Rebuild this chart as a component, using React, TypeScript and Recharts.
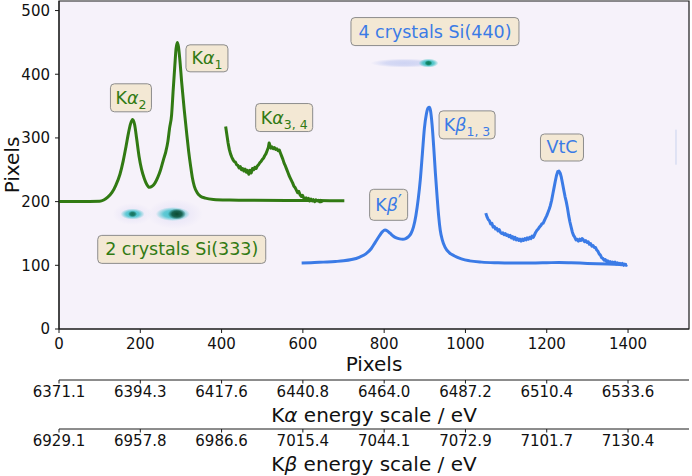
import {
  ComposedChart,
  Line,
  Scatter,
  XAxis,
  YAxis,
  CartesianGrid,
  ReferenceArea,
  ReferenceLine,
} from 'recharts'

const FONT = "'DejaVu Sans', sans-serif"
const GREEN = '#317a13'
const BLUE = '#3b7be6'
const INK = '#111'

// ── axes ──────────────────────────────────────────────────────────────────────
const pixelTicks = [0, 200, 400, 600, 800, 1000, 1200, 1400]
const yTicks = [0, 100, 200, 300, 400, 500]
const kaEnergyLabels = ['6371.1', '6394.3', '6417.6', '6440.8', '6464.0', '6487.2', '6510.4', '6533.6']
const kbEnergyLabels = ['6929.1', '6957.8', '6986.6', '7015.4', '7044.1', '7072.9', '7101.7', '7130.4']

// ── spectra (detector pixel, pixel row) ───────────────────────────────────────
const kaMain: [number, number][] = [
  [0, 200], [50, 200], [100, 200.5], [110, 202.5], [120, 207], [130, 214], [140, 226], [150, 243],
  [158, 264], [165, 287], [171, 308], [176, 322], [181, 329], [186, 321], [191, 299], [197, 271],
  [203, 251], [210, 236], [216, 227], [222, 222.5], [229, 224], [236, 229], [243, 238], [250, 250],
  [257, 266], [263, 279], [268, 295], [272, 315], [277, 336], [281, 376], [285, 414], [288, 440],
  [291, 450], [294, 443], [297, 425], [302, 386], [308, 345], [314, 308], [319, 279], [324, 255],
  [328, 238], [333, 224], [340, 214], [348, 208.5], [360, 205.5], [380, 203.5], [420, 202.5],
  [480, 202], [560, 201.8], [640, 201.6], [702, 201.5],
]

const ka34: [number, number][] = [
  [410, 318], [413, 305], [416, 292], [419, 282], [422, 275], [425, 270], [428, 266], [431, 263],
  [434, 262], [437, 258], [440, 257], [443, 253], [446, 255], [449, 250], [452, 252], [455, 248],
  [458, 251], [461, 246], [464, 249], [467, 243], [470, 249], [473, 245], [476, 252], [479, 250],
  [482, 254], [485, 252], [488, 256], [491, 258], [494, 261], [497, 263], [500, 266], [503, 268],
  [506, 272], [509, 275], [512, 280], [515, 285], [517, 292], [519, 288], [521, 284], [524, 286],
  [527, 283], [530, 285], [533, 282], [536, 283], [539, 280], [542, 281], [545, 276], [548, 271],
  [551, 266], [554, 260], [557, 256], [560, 251], [563, 246], [566, 241], [569, 237], [572, 233],
  [575, 229], [578, 224], [581, 222], [584, 218], [587, 214], [590, 216], [593, 211], [596, 208],
  [599, 210], [602, 206], [605, 204], [608, 206], [611, 202], [614, 205], [617, 201], [620, 204],
  [623, 201], [626, 203], [629, 200], [632, 203], [635, 201], [638, 202], [641, 200], [644, 202],
  [647, 198],
]

const kbMain: [number, number][] = [
  [597, 103.5], [620, 104], [650, 105], [680, 106], [700, 107], [720, 109], [740, 113], [755, 118],
  [768, 126], [778, 136], [788, 146], [796, 153], [802, 155.5], [808, 154], [815, 150], [822, 146],
  [830, 143], [838, 141.5], [846, 141], [853, 142], [860, 145], [866, 150], [872, 160], [878, 178],
  [884, 205], [889, 235], [894, 275], [899, 315], [904, 338], [908, 347], [911, 348], [914, 343],
  [918, 320], [922, 285], [926, 245], [930, 210], [934, 178], [938, 155], [943, 140], [950, 128],
  [960, 120], [972, 115], [990, 110], [1010, 107], [1040, 105], [1080, 104], [1120, 103.5],
  [1160, 103.5], [1200, 104], [1230, 104.5], [1260, 104], [1300, 103], [1350, 102], [1397, 101],
]

const vtc: [number, number][] = [
  [1050, 182], [1053, 176], [1056, 172], [1059, 170], [1062, 165], [1065, 166], [1068, 160],
  [1071, 161], [1074, 157], [1077, 158], [1080, 154], [1083, 156], [1086, 152], [1089, 150],
  [1092, 151], [1095, 148], [1098, 150], [1101, 147], [1104, 148], [1107, 145], [1110, 147],
  [1113, 143], [1116, 145], [1119, 141], [1122, 144], [1125, 140], [1128, 142], [1131, 139],
  [1134, 141], [1137, 138], [1140, 141], [1143, 139], [1146, 142], [1149, 140], [1152, 143],
  [1155, 141], [1158, 144], [1161, 142], [1164, 146], [1167, 144], [1170, 148], [1173, 152],
  [1176, 155], [1179, 157], [1182, 160], [1185, 162], [1188, 165], [1191, 166], [1194, 170],
  [1197, 174], [1200, 178], [1203, 183], [1206, 188], [1209, 194], [1212, 202], [1215, 212],
  [1218, 222], [1221, 232], [1224, 241], [1227, 247], [1230, 248], [1233, 245], [1236, 238],
  [1239, 228], [1242, 218], [1245, 208], [1248, 200], [1251, 190], [1254, 178], [1257, 168],
  [1260, 160], [1263, 152], [1266, 147], [1269, 144], [1272, 140], [1275, 141], [1278, 138],
  [1281, 141], [1284, 139], [1287, 142], [1290, 140], [1293, 137], [1296, 139], [1299, 136],
  [1302, 137], [1305, 133], [1308, 134], [1311, 130], [1314, 131], [1317, 128], [1320, 128],
  [1323, 124], [1326, 122], [1329, 118], [1332, 116], [1335, 112], [1338, 111], [1341, 108],
  [1344, 109], [1347, 106], [1350, 107], [1353, 104], [1356, 106], [1359, 104], [1362, 105],
  [1365, 103], [1368, 105], [1371, 102], [1374, 104], [1377, 102], [1380, 103], [1383, 101],
  [1386, 103], [1389, 100], [1392, 102], [1395, 100], [1398, 101],
]

// detector spots
const spots = [
  { x: 181, y: 180.5, kind: 'ka2' },
  { x: 290, y: 180.5, kind: 'ka1' },
  { x: 909, y: 417.5, kind: 'kb' },
]

// annotation boxes
const notes = [
  { x: 177, y: 363, key: 'ka2', series: 'ka', base: 'K', greek: 'α', sub: '2' },
  { x: 364, y: 425, key: 'ka1', series: 'ka', base: 'K', greek: 'α', sub: '1' },
  { x: 554, y: 332, key: 'ka34', series: 'ka', base: 'K', greek: 'α', sub: '3, 4' },
  { x: 302, y: 125, key: 'si333', series: 'ka', base: '2 crystals Si(333)' },
  { x: 925, y: 467, key: 'si440', series: 'kb', base: '4 crystals Si(440)' },
  { x: 1004, y: 320.5, key: 'kb13', series: 'kb', base: 'K', greek: 'β', sub: '1, 3' },
  { x: 811, y: 195, key: 'kbp', series: 'kb', base: 'K', greek: 'β', sup: '′' },
  { x: 1237.5, y: 285, key: 'vtc', series: 'kb', base: 'VtC' },
]

const toPts = (arr: [number, number][]) => arr.map(([x, y]) => ({ x, y }))

// ── drawing helpers ───────────────────────────────────────────────────────────
const spotLayers: Record<string, { dx: number; rx: number; ry: number; color: string; op: number }[]> = {
  ka2: [
    { dx: 0, rx: 20, ry: 11, color: '#cfcdf0', op: 0.25 },
    { dx: 0, rx: 12, ry: 5.5, color: '#3fc1cc', op: 1 },
    { dx: 0, rx: 4.5, ry: 3.2, color: '#14705a', op: 1 },
  ],
  ka1: [
    { dx: -2, rx: 28, ry: 15, color: '#cbc9f0', op: 0.25 },
    { dx: -4, rx: 17, ry: 7, color: '#3fc1cc', op: 1 },
    { dx: 0, rx: 9, ry: 5.5, color: '#0b4a30', op: 1 },
  ],
  kb: [
    { dx: -24, rx: 34, ry: 4.5, color: '#b3bfee', op: 0.6 },
    { dx: 0, rx: 10, ry: 4.5, color: '#35bfc0', op: 1 },
    { dx: 0, rx: 4, ry: 2.8, color: '#0a7d58', op: 1 },
  ],
}

function Spot(props: any) {
  const { cx, cy, payload } = props
  const layers = spotLayers[payload.kind]
  return (
    <g>
      <defs>
        {layers.map((l, i) => (
          <radialGradient key={i} id={`spot-${payload.kind}-${i}`}>
            <stop offset="0" stopColor={l.color} stopOpacity={l.op} />
            <stop offset="0.55" stopColor={l.color} stopOpacity={l.op * 0.8} />
            <stop offset="1" stopColor={l.color} stopOpacity={0} />
          </radialGradient>
        ))}
      </defs>
      {layers.map((l, i) => (
        <ellipse key={i} cx={cx + l.dx} cy={cy} rx={l.rx} ry={l.ry} fill={`url(#spot-${payload.kind}-${i})`} />
      ))}
    </g>
  )
}

const noteBox: Record<string, { w: number; h: number }> = {
  ka2: { w: 41, h: 28 },
  ka1: { w: 42, h: 27 },
  ka34: { w: 57, h: 28 },
  si333: { w: 168, h: 28 },
  si440: { w: 168, h: 28 },
  kb13: { w: 56, h: 28 },
  kbp: { w: 38, h: 31 },
  vtc: { w: 43, h: 27 },
}

function Note(props: any) {
  const { cx, cy, payload } = props
  const b = noteBox[payload.key]
  const color = payload.series === 'ka' ? GREEN : BLUE
  return (
    <g>
      <rect x={cx - b.w / 2} y={cy - b.h / 2} width={b.w} height={b.h} rx={4}
        fill="#f3e8d4" stroke="#8c8c8c" strokeWidth={1} />
      <text x={cx} y={cy + 6} textAnchor="middle" fontSize={17.5} fontFamily={FONT} fill={color}>
        {payload.base}
        {payload.greek && <tspan fontStyle="italic">{payload.greek}</tspan>}
        {payload.sub && <tspan fontSize={12.5} dy={5}>{payload.sub}</tspan>}
        {payload.sup && <tspan fontSize={17} dy={-4}>{payload.sup}</tspan>}
      </text>
    </g>
  )
}

const axisTitle = (main: string, greek?: string, rest?: string) => (p: any) => {
  const { x, y, width } = p.viewBox
  return (
    <text x={x + width / 2} y={y + 42} textAnchor="middle" fontSize={20} fontFamily={FONT} fill={INK}>
      {main}
      {greek && <tspan fontStyle="italic">{greek}</tspan>}
      {rest}
    </text>
  )
}

const yTitle = (p: any) => {
  const { y, height } = p.viewBox
  const cy = y + height / 2
  return (
    <text x={19} y={cy} transform={`rotate(-90 19 ${cy})`} textAnchor="middle" fontSize={20} fontFamily={FONT} fill={INK}>
      Pixels
    </text>
  )
}

const tickStyle = { fontSize: 15, fontFamily: FONT, fill: INK }

export default function App() {
  return (
    <div style={{ position: 'absolute', left: 0, top: 0, width: 692, height: 476, background: '#fff' }}>
      <ComposedChart width={692} height={476} margin={{ top: 1, right: 3, bottom: 0, left: 0 }}>
        <CartesianGrid xAxisId="a_px" horizontal={false} vertical={false} fill="#f6f2fa" stroke="none" />
        <XAxis
          xAxisId="a_px"
          type="number"
          dataKey="x"
          domain={[0, 1550]}
          allowDataOverflow
          ticks={pixelTicks}
          height={51}
          tickSize={4}
          tickMargin={5}
          tick={tickStyle}
          stroke="#1a1a1a"
          label={axisTitle('Pixels')}
        />
        <XAxis
          xAxisId="b_ka"
          type="number"
          dataKey="x"
          domain={[0, 1550]}
          allowDataOverflow
          ticks={pixelTicks}
          tickFormatter={(v: number) => kaEnergyLabels[pixelTicks.indexOf(v)]}
          height={49}
          tickSize={3.5}
          tickMargin={3}
          tick={tickStyle}
          stroke="#1a1a1a"
          label={axisTitle('K', 'α', ' energy scale / eV')}
        />
        <XAxis
          xAxisId="c_kb"
          type="number"
          dataKey="x"
          domain={[0, 1550]}
          allowDataOverflow
          ticks={pixelTicks}
          tickFormatter={(v: number) => kbEnergyLabels[pixelTicks.indexOf(v)]}
          height={47}
          tickSize={3.5}
          tickMargin={3}
          tick={tickStyle}
          stroke="#1a1a1a"
          label={axisTitle('K', 'β', ' energy scale / eV')}
        />
        <YAxis
          type="number"
          dataKey="y"
          domain={[0, 515]}
          allowDataOverflow
          ticks={yTicks}
          width={59}
          tickSize={4}
          tickMargin={5}
          tick={tickStyle}
          stroke="#1a1a1a"
          label={yTitle}
        />

        <Scatter xAxisId="a_px" data={spots} dataKey="y" shape={<Spot />} isAnimationActive={false} />
        <ReferenceLine xAxisId="a_px" segment={[{ x: 1518, y: 258 }, { x: 1518, y: 313 }]} stroke="#c9d3ee" strokeWidth={1} />

        <Line xAxisId="a_px" data={toPts(kaMain)} dataKey="y" type="monotone" stroke={GREEN} strokeWidth={3} dot={false} isAnimationActive={false} />
        <Line xAxisId="a_px" data={toPts(ka34)} dataKey="y" type="linear" stroke={GREEN} strokeWidth={3} strokeLinejoin="round" dot={false} isAnimationActive={false} />
        <Line xAxisId="a_px" data={toPts(kbMain)} dataKey="y" type="monotone" stroke={BLUE} strokeWidth={3} dot={false} isAnimationActive={false} />
        <Line xAxisId="a_px" data={toPts(vtc)} dataKey="y" type="linear" stroke={BLUE} strokeWidth={3} strokeLinejoin="round" dot={false} isAnimationActive={false} />

        <Scatter xAxisId="a_px" data={notes} dataKey="y" shape={<Note />} isAnimationActive={false} />

        <ReferenceArea xAxisId="a_px" x1={0} x2={1550} y1={0} y2={515} fill="none" stroke="#1a1a1a" strokeWidth={1.2} ifOverflow="visible" />
      </ComposedChart>
    </div>
  )
}
